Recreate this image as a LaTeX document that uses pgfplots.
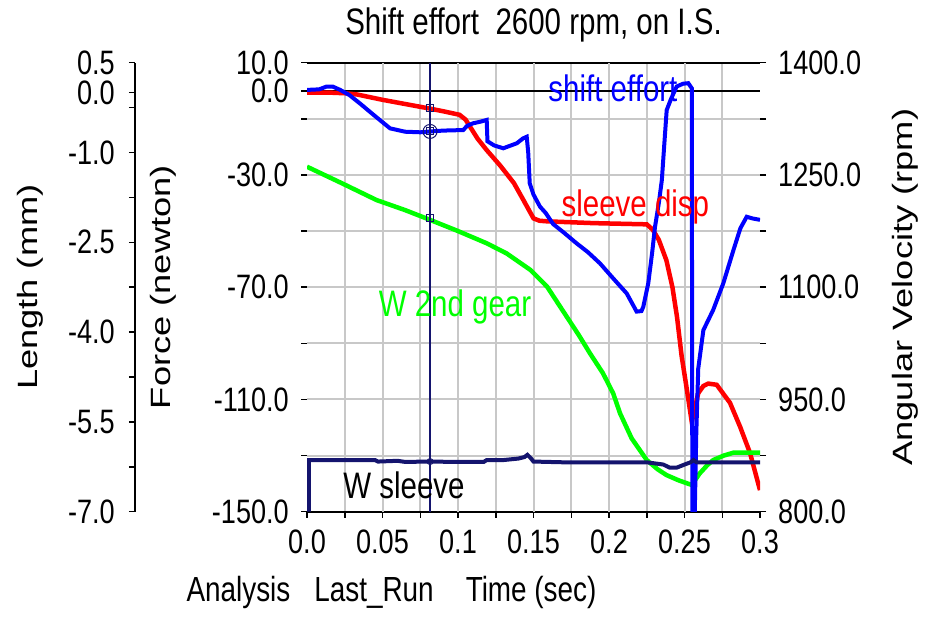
\documentclass[border=0pt]{standalone}
\usepackage{fontspec}
\setmainfont{Liberation Sans}
\newfontfamily\hfont{Liberation Sans}[FakeStretch=0.8]
\newfontfamily\vlabelfont{Liberation Sans}[FakeStretch=1.3]
\usepackage{pgfplots}
\pgfplotsset{compat=1.18}
\definecolor{gridgray}{HTML}{C8C8C8}
\definecolor{cnavy}{HTML}{14146E}
\definecolor{cgreen}{HTML}{00FF00}
\definecolor{cblue}{HTML}{0000FF}
\definecolor{cred}{HTML}{FF0000}

\tikzset{ylab/.style={font=\vlabelfont\fontsize{28}{30}\selectfont},
  clab/.style={font=\hfont\fontsize{37}{40}\selectfont}}
\pgfplotsset{
  base/.style={scale only axis, width=453bp, height=449bp,
    at={(307bp,108.3bp)}, anchor=south west, xmin=0, xmax=0.3},
  overlay/.style={base, hide axis},
  every tick label/.append style={font=\hfont\fontsize{34}{36}\selectfont, inner sep=0pt},
  xticklabel style={yshift=-12bp},
  tick style={draw=black, line width=1.5bp},
  major tick length=6bp, minor tick length=6bp,
  tick align=outside,
}

\begin{document}
\begin{tikzpicture}
\useasboundingbox (0,0) rectangle (933bp,620bp);

% force axis: grid, frame, ticks, titles
\begin{axis}[base,
  ymin=-150, ymax=10,
  separate axis lines,
  y axis line style={draw=none},
  x axis line style={draw=black, line width=2bp},
  xtick={0,0.05,0.1,0.15,0.2,0.25,0.3},
  xticklabels={0.0,0.05,0.1,0.15,0.2,0.25,0.3},
  minor xtick={0.025,0.075,0.125,0.175,0.225,0.275},
  extra x ticks={0.05,0.1,0.15,0.2,0.25},
  extra x tick labels={},
  extra x tick style={grid=major},
  xminorgrids=true,
  xtick pos=left, ytick pos=left,
  ytick={-150,-110,-70,-30,0,10},
  yticklabels={-150.0,-110.0,-70.0,-30.0,0.0,10.0},
  yticklabel style={xshift=-12bp},
  minor ytick={-130,-90,-50,-10},
  ymajorgrids=true, yminorgrids=true,
  grid style={gridgray, line width=2bp},
  minor grid style={gridgray, line width=2bp},
  title={Shift effort\ \ 2600 rpm, on I.S.},
  title style={font=\hfont\fontsize{37}{38}\selectfont,
    at={(axis description cs:0.5,1)}, anchor=base, yshift=22bp},
  xlabel={Analysis\hspace{24bp}Last\_Run\hspace{32bp}Time (sec)},
  xlabel style={font=\hfont\fontsize{35}{38}\selectfont,
    at={(axis description cs:0,0)}, anchor=base west, xshift=-124bp, yshift=-90bp},
  ylabel={Force (newton)},
  ylabel style={ylab, at={(axis description cs:-0.318,0.5)}, anchor=center},
]
\addplot[black, line width=2bp] coordinates {(0,0) (0.3,0)};
\end{axis}

% sleeve disp (mm)
\begin{axis}[overlay, ymin=-7, ymax=0.5]
\addplot[cred, line width=4.5bp] coordinates {
(0,0.0) (0.015,0.0) (0.025,-0.01) (0.033,-0.03) (0.05,-0.12) (0.065,-0.19)
(0.080,-0.26) (0.090,-0.31) (0.101,-0.37) (0.105,-0.45) (0.108,-0.57)
(0.113,-0.77) (0.119,-0.96) (0.128,-1.22) (0.137,-1.51) (0.143,-1.78)
(0.150,-2.10) (0.154,-2.14) (0.159,-2.15) (0.190,-2.18) (0.225,-2.20)
(0.229,-2.29) (0.233,-2.46) (0.238,-2.80) (0.242,-3.25) (0.245,-3.74)
(0.2481,-4.40) (0.2515,-4.95) (0.2548,-5.50) (0.2591,-5.02) (0.2625,-4.90)
(0.2657,-4.86) (0.2713,-4.88) (0.2801,-5.18) (0.2868,-5.58) (0.2934,-6.02)
(0.300,-6.64)};
\addplot[only marks, mark=square, mark size=3.5bp, cnavy, line width=1bp]
  coordinates {(0.0815,-0.26)};
\end{axis}

% W 2nd gear (rpm) and right axis
\begin{axis}[base, ymin=800, ymax=1400,
  axis x line=none, axis y line*=right,
  y axis line style={draw=none},
  ytick={800,950,1100,1250,1400},
  yticklabels={800.0,950.0,1100.0,1250.0,1400.0},
  yticklabel style={xshift=12bp},
  minor ytick={875,1025,1175,1325},
  ylabel={Angular Velocity (rpm)},
  ylabel style={ylab, at={(axis description cs:1.32,0.5)}, anchor=center},
]
\addplot[cgreen, line width=4.5bp] coordinates {
(0,1261) (0.023,1239) (0.046,1216.5) (0.065,1203) (0.0815,1190) (0.100,1175)
(0.119,1158.7) (0.1323,1145) (0.148,1123) (0.159,1100.7) (0.172,1060.6)
(0.180,1036) (0.1874,1011.6) (0.196,985) (0.2028,958) (0.2073,931.5)
(0.215,898) (0.225,869) (0.232,857) (0.238,849) (0.246,842) (0.2548,835.7)
(0.260,851) (0.265,862) (0.269,869) (0.276,875) (0.2823,878.8) (0.300,878.8)};
\addplot[only marks, mark=square, mark size=3.5bp, cnavy, line width=1bp]
  coordinates {(0.0815,1192)};
\end{axis}

% shift effort (N), cursor, curve names
\begin{axis}[overlay, ymin=-150, ymax=10]
\addplot[cblue, line width=4bp] coordinates {
(0,0.3) (0.008,0.5) (0.013,1.5) (0.017,1.5) (0.022,0.3) (0.028,-1.5)
(0.035,-4.5) (0.045,-9) (0.055,-13.4) (0.065,-14.6) (0.075,-14.8) (0.082,-14.5)
(0.090,-14.2) (0.1035,-14) (0.106,-12.5) (0.110,-11.6) (0.115,-11) (0.119,-10.4)
(0.1195,-18) (0.124,-19.5) (0.130,-20.5) (0.135,-19.5) (0.139,-18.7) (0.143,-17)
(0.1455,-16.4) (0.1465,-22) (0.1475,-33) (0.150,-37) (0.1543,-41.3) (0.158,-43.5)
(0.163,-47.5) (0.170,-50.5) (0.1786,-54.4) (0.186,-57.5) (0.194,-61.5) (0.203,-67)
(0.2117,-72.2) (0.2183,-78.7) (0.2215,-78.5) (0.2227,-77) (0.226,-68.6)
(0.2285,-58) (0.2305,-48.4) (0.233,-40) (0.235,-31.8) (0.2365,-20) (0.2382,-6.9)
(0.241,-3) (0.2448,1.5) (0.249,2.5) (0.2525,2.7) (0.2548,0.9) (0.2552,-150)
(0.2568,-150) (0.2578,-122) (0.2591,-99) (0.2625,-85.3) (0.269,-78.1)
(0.2757,-68.6) (0.2824,-56.8) (0.2870,-49) (0.2912,-44.9) (0.2950,-45.5)
(0.300,-46)};
\addplot[cnavy, line width=2bp] coordinates {(0.0815,10) (0.0815,-150)};
\addplot[only marks, mark=o, mark size=7bp, cnavy, line width=1bp]
  coordinates {(0.0815,-14.5)};
\addplot[only marks, mark=square, mark size=3.5bp, cnavy, line width=1bp]
  coordinates {(0.0815,-14.5)};
\node[clab, text=cblue] at (axis cs:0.2026,1.0) {shift effort};
\node[clab, text=cred] at (axis cs:0.2175,-41.4) {sleeve disp};
\node[clab, text=cgreen] at (axis cs:0.098,-77) {W 2nd gear};
\node[clab, text=black] at (axis cs:0.0642,-140.5) {W sleeve};
\end{axis}

% W sleeve (rpm)
\begin{axis}[overlay, ymin=800, ymax=1400]
\addplot[cnavy, line width=4bp] coordinates {
(0.0012,800) (0.0012,869) (0.045,869) (0.047,867) (0.060,868) (0.065,866.5)
(0.080,867) (0.100,866.5) (0.117,866.5) (0.119,869) (0.130,869) (0.135,870)
(0.140,871) (0.144,873) (0.146,876) (0.148,872) (0.150,867) (0.170,866)
(0.225,866) (0.236,863) (0.240,859) (0.245,859) (0.250,863) (0.254,866)
(0.256,869) (0.258,866) (0.300,866)};
\addplot[only marks, mark=o, mark size=3bp, cnavy, line width=1bp]
  coordinates {(0.0815,867)};
\end{axis}

% length axis on the far left
\begin{axis}[scale only axis, width=10bp, height=449bp,
  at={(135bp,108.3bp)}, anchor=south west,
  xmin=0, xmax=1, ymin=-7, ymax=0.5,
  axis x line=none, axis y line*=left,
  axis line style={draw=black, line width=1.5bp},
  ytick={-7,-5.5,-4,-2.5,-1,0,0.5},
  yticklabels={-7.0,-5.5,-4.0,-2.5,-1.0,0.0,0.5},
  yticklabel style={xshift=-14bp},
  minor ytick={-6.25,-4.75,-3.25,-1.75,-0.25},
  ylabel={Length (mm)},
  ylabel style={ylab, at={(axis description cs:-10.5,0.5)}, anchor=center},
]
\addplot[draw=none] coordinates {(0,0)};
\end{axis}
\end{tikzpicture}
\end{document}
